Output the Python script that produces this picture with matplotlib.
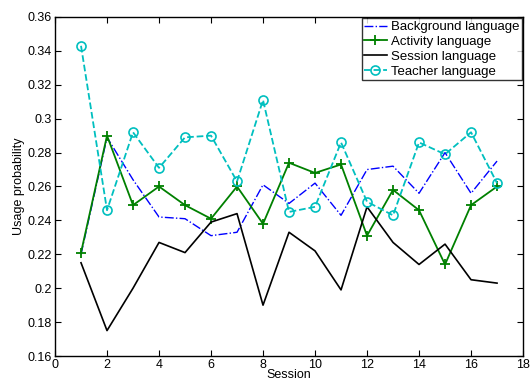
import numpy as np
import matplotlib
matplotlib.use('Agg')
import matplotlib.pyplot as plt

plt.rcParams['font.family'] = ['Liberation Sans', 'DejaVu Sans']

sessions = list(range(1, 18))
background = [0.220, 0.289, 0.264, 0.242, 0.241, 0.231, 0.233, 0.261, 0.250, 0.262,
              0.243, 0.270, 0.272, 0.256, 0.280, 0.256, 0.275]
activity = [0.221, 0.290, 0.249, 0.260, 0.249, 0.241, 0.260, 0.238, 0.274, 0.268,
            0.273, 0.231, 0.258, 0.246, 0.214, 0.249, 0.260]
session = [0.215, 0.175, 0.200, 0.227, 0.221, 0.239, 0.244, 0.190, 0.233, 0.222,
           0.199, 0.248, 0.227, 0.214, 0.226, 0.205, 0.203]
teacher = [0.343, 0.246, 0.292, 0.271, 0.289, 0.290, 0.263, 0.311, 0.245, 0.248,
           0.286, 0.251, 0.243, 0.286, 0.279, 0.292, 0.262]

fig = plt.figure(figsize=(5.31, 3.81), dpi=100)
ax = fig.add_axes([0.1036, 0.0656, 0.8814, 0.8898])

ax.plot(sessions, background, '-.', color='#0000ff', lw=1.0, label='Background language')
ax.plot(sessions, activity, '-', color='#008000', lw=1.3, marker='+', markersize=7,
        markeredgewidth=1.3, label='Activity language')
ax.plot(sessions, session, '-', color='black', lw=1.2, label='Session language')
ax.plot(sessions, teacher, '--', color='#00bfbf', lw=1.3, marker='o', markersize=6.5,
        markerfacecolor='none', markeredgewidth=1.2, label='Teacher language')

ax.set_xlim(0, 18)
ax.set_ylim(0.16, 0.36)
ax.set_xticks(np.arange(0, 19, 2))
ax.set_yticks(np.arange(0.16, 0.361, 0.02))
ax.set_yticklabels(['0.16', '0.18', '0.2', '0.22', '0.24', '0.26', '0.28', '0.3',
                    '0.32', '0.34', '0.36'])
ax.tick_params(direction='in', top=True, right=True, length=4, labelsize=9, pad=2)
for s in ax.spines.values():
    s.set_linewidth(1.0)

ax.set_xlabel('Session', fontsize=9, labelpad=-1)
ax.set_ylabel('Usage probability', fontsize=9, labelpad=2)

leg = ax.legend(loc='upper right', fontsize=9.5, frameon=True, fancybox=False,
                edgecolor='black', borderpad=0.2, labelspacing=0.2, handlelength=1.7,
                handletextpad=0.3, borderaxespad=0.1)
leg.get_frame().set_linewidth(1.0)

plt.savefig('out.png', dpi=100)
